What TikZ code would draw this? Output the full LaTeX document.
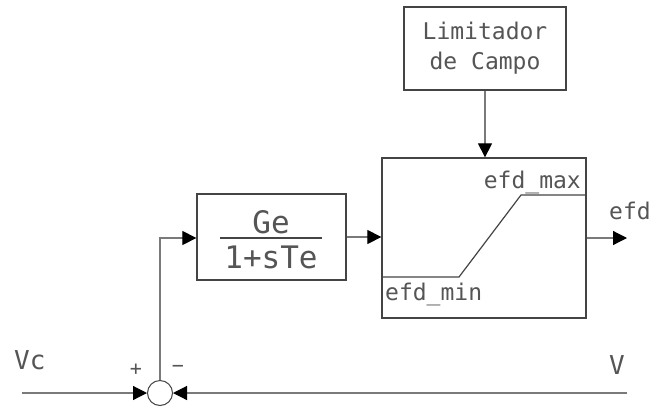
\documentclass[tikz,border=0pt]{standalone}
\usepackage{fontspec}
\setmonofont{DejaVu Sans Mono}
\usetikzlibrary{arrows.meta}
\definecolor{txt}{HTML}{555555}
\definecolor{boxc}{HTML}{444444}
\definecolor{wire}{HTML}{7a7a7a}
\tikzset{
  blockbox/.style={draw=boxc, line width=1.3pt, rectangle, inner sep=0pt},
  lbl/.style={text=txt, font=\ttfamily\fontsize{23}{30}\selectfont, inner sep=0pt},
  wireline/.style={draw=wire, line width=1.2pt},
  arr/.style={wireline, arrows={-{Triangle[length=14pt,width=14pt,color=black,fill=black]}}},
}
\begin{document}
\begin{tikzpicture}[x=1pt,y=-1pt]
\useasboundingbox[fill=white] (0,0) rectangle (660,407);
% blocks
\node[blockbox, minimum width=162pt, minimum height=83pt] (lim) at (485,48.5) {};
\node[lbl, align=center] (limtxt) at (485,48) {Limitador\\de Campo};
\node[blockbox, minimum width=149pt, minimum height=86pt] (ge) at (271.5,237) {};
\node[blockbox, minimum width=204pt, minimum height=160pt] (sat) at (484,238) {};
\node[draw=boxc, line width=1pt, circle, minimum size=25pt, inner sep=0pt] (sum) at (160,393) {};
% transfer function
\node[lbl, font=\ttfamily\fontsize{31}{31}\selectfont, anchor=base] (num) at (271,233) {Ge};
\node[lbl, font=\ttfamily\fontsize{31}{31}\selectfont, anchor=base] (den) at (271,268) {1+sTe};
\draw[draw=boxc, line width=1.2pt] (220,238) -- (322,238);
% saturation curve
\draw[draw=boxc, line width=1.2pt] (sat.west |- 0,277) -- (459,277) -- (521,195) -- (sat.east |- 0,195);
\node[lbl, anchor=base east] (emax) at (581,188) {efd\_max};
\node[lbl, anchor=base west] (emin) at (385,300) {efd\_min};
% coordinates
\coordinate (vcs) at (22,393);
\coordinate (ve) at (627,393);
\coordinate (efdout) at (627,238);
\coordinate (corner) at (160,238);
% connectors
\draw[arr] (lim.south) -- (lim.south |- sat.north);
\draw[arr] (ge.east) -- (ge.east -| sat.west);
\draw[arr] (sum.north) -- (corner) -- (corner -| ge.west);
\draw[arr] (vcs) -- (sum.west);
\draw[arr] (ve) -- (sum.east);
\draw[arr] (sat.east) -- (efdout);
% labels
\node[lbl, anchor=base west] (efdl) at (609,219) {efd};
\node[lbl, font=\ttfamily\fontsize{26}{26}\selectfont, anchor=base west] (vcl) at (14,369) {Vc};
\node[lbl, font=\ttfamily\fontsize{26}{26}\selectfont, anchor=base west] (vl) at (609,374) {V};
\node[lbl, font=\ttfamily\fontsize{20}{20}\selectfont] (plus) at (136,370) {+};
\node[lbl, font=\ttfamily\fontsize{20}{20}\selectfont] (minus) at (178,369) {−};
\end{tikzpicture}
\end{document}
